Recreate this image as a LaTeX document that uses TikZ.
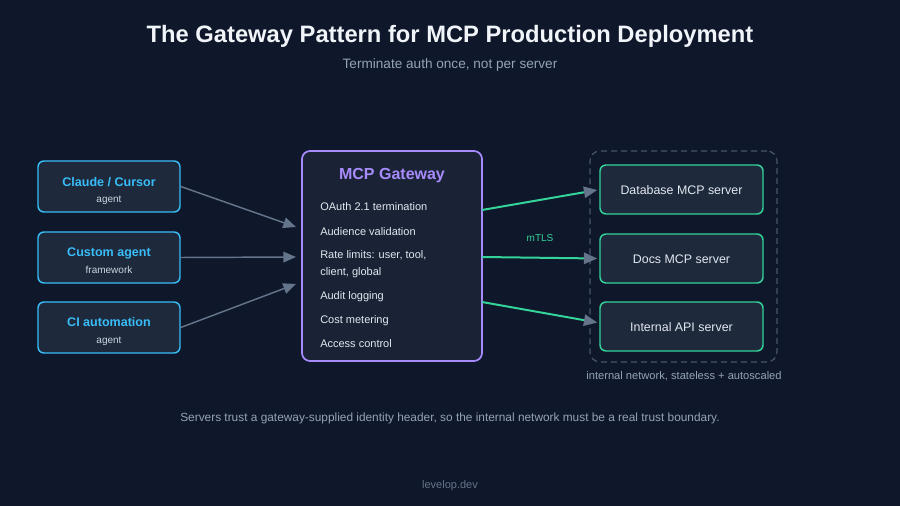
\documentclass[tikz,border=0pt]{standalone}
\usepackage{fontspec}
\setmainfont{Liberation Sans}
\usetikzlibrary{arrows.meta}
\usetikzlibrary{calc}
\usetikzlibrary{positioning}

\definecolor{bgnavy}{HTML}{0F172A}
\definecolor{panel}{HTML}{1E293B}
\definecolor{gwpanel}{HTML}{1A2335}
\definecolor{skyline}{HTML}{38BDF8}
\definecolor{purpleline}{HTML}{A78BFA}
\definecolor{greenline}{HTML}{34D399}
\definecolor{slate}{HTML}{64748B}
\definecolor{dashgray}{HTML}{475569}
\definecolor{lighttext}{HTML}{E2E8F0}
\definecolor{mutetext}{HTML}{CBD5E1}
\definecolor{graytext}{HTML}{94A3B8}
\definecolor{titletext}{HTML}{F1F5F9}

\tikzset{
	clientbox/.style={draw=skyline, line width=1.1pt, fill=panel, rounded corners=4.5pt,
		minimum width=106.5pt, minimum height=38.25pt, inner sep=0pt},
	clientname/.style={anchor=base, inner sep=0pt, text=skyline, font=\fontsize{9.4}{11}\selectfont\bfseries},
	clientkind/.style={anchor=base, inner sep=0pt, text=mutetext, font=\fontsize{7.5}{9}\selectfont},
	serverbox/.style={draw=greenline, line width=1.1pt, fill=panel, rounded corners=4.5pt,
		minimum width=122.25pt, minimum height=36.75pt, inner sep=0pt, text depth=0pt,
		text=lighttext, font=\fontsize{9.3}{11}\selectfont},
	servername/.style={anchor=base, inner sep=0pt, text=lighttext, font=\fontsize{9.3}{11}\selectfont},
	gatebox/.style={draw=purpleline, line width=1.3pt, fill=gwpanel, rounded corners=6pt,
		minimum width=135pt, minimum height=157.5pt, inner sep=0pt},
	zonebox/.style={draw=dashgray, line width=0.9pt, dash pattern=on 4.5pt off 3pt,
		rounded corners=7.5pt, minimum width=140.25pt, minimum height=158.25pt, inner sep=0pt},
	gateitem/.style={anchor=base west, align=left, text=lighttext, inner sep=0pt,
		font=\fontsize{8.25}{12}\selectfont},
	inflow/.style={draw=slate, line width=1.1pt, -{Triangle[length=9.5pt, width=8pt]}},
	outflow/.style={draw=greenline, line width=1.5pt, -{Triangle[length=10pt, width=8.5pt, color=slate]}},
}

\begin{document}
\begin{tikzpicture}[x=0.75pt, y=-0.75pt]
	\fill[bgnavy] (0,0) rectangle (900,506);
	\useasboundingbox (0,0) rectangle (900,506);

	% heading
	\node[anchor=base, text=titletext, font=\fontsize{17.8}{21}\selectfont\bfseries] (title) at (450,43) {The Gateway Pattern for MCP Production Deployment};
	\node[anchor=base, text=graytext, font=\fontsize{10.2}{12}\selectfont] (subtitle) at (450,69) {Terminate auth once, not per server};

	% clients
	\node[clientbox] (claude) at (109,186.5) {};
	\node[clientbox] (custom) at (109,257.5) {};
	\node[clientbox] (ci) at (109,327.5) {};
	\node[clientname] (claudename) at ($(claude.center)+(0,0.5)$) {Claude / Cursor};
	\node[clientkind] (claudekind) at ($(claude.center)+(0,16.5)$) {agent};
	\node[clientname] (customname) at ($(custom.center)+(0,-1)$) {Custom agent};
	\node[clientkind] (customkind) at ($(custom.center)+(0,15.5)$) {framework};
	\node[clientname] (ciname) at ($(ci.center)+(0,-1)$) {CI automation};
	\node[clientkind] (cikind) at ($(ci.center)+(0,15.5)$) {agent};

	% gateway
	\node[gatebox] (gw) at (392,256) {};
	\node[anchor=base, text=purpleline, font=\fontsize{12}{14}\selectfont\bfseries] (gwtitle) at (392,180) {MCP Gateway};
	\node[gateitem] (oauth) at (320,211) {OAuth 2.1 termination};
	\node[gateitem] (aud) at (320,235) {Audience validation};
	\node[gateitem] (rate) at (320,258.5) {Rate limits: user, tool,};
	\node[gateitem] (rate2) at (320,275) {client, global};
	\node[gateitem] (audit) at (320,299.3) {Audit logging};
	\node[gateitem] (cost) at (320,323.3) {Cost metering};
	\node[gateitem] (access) at (320,347.3) {Access control};

	% internal network
	\node[zonebox] (zone) at (683.5,256.5) {};
	\node[anchor=base, text=graytext, font=\fontsize{8.35}{10}\selectfont] (zonelabel) at (684,379.5) {internal network, stateless + autoscaled};
	\node[serverbox] (db) at (681.5,189.5) {};
	\node[serverbox] (docs) at (681.5,258.5) {};
	\node[serverbox] (api) at (681.5,326.5) {};
	\node[servername] (dbname) at ($(db.center)+(0,5.5)$) {Database MCP server};
	\node[servername] (docsname) at ($(docs.center)+(0,5)$) {Docs MCP server};
	\node[servername] (apiname) at ($(api.center)+(0,5)$) {Internal API server};

	% arrows in
	\coordinate (in1) at (296,227);
	\coordinate (in2) at (296,257);
	\coordinate (in3) at (296,284);
	\draw[inflow] (claude.east) -- (in1);
	\draw[inflow] (custom.east) -- (in2);
	\draw[inflow] (ci.east) -- (in3);

	% arrows out
	\coordinate (out1) at (482,210);
	\coordinate (out2) at (482,257);
	\coordinate (out3) at (482,302);
	\draw[outflow] (out1) -- ($(db.west)+(-2,0.5)$);
	\draw[outflow] (out2) -- ($(docs.west)+(-2,0)$);
	\draw[outflow] (out3) -- ($(api.west)+(-2,-4)$);
	\node[anchor=base, text=greenline, font=\fontsize{7.5}{9}\selectfont] (mtls) at (540,242) {mTLS};

	% footer
	\node[anchor=base, text=graytext, font=\fontsize{8.9}{10}\selectfont] (note) at (450,421) {Servers trust a gateway-supplied identity header, so the internal network must be a real trust boundary.};
	\node[anchor=base, text=slate, font=\fontsize{8.25}{10}\selectfont] (site) at (450,488) {levelop.dev};
\end{tikzpicture}
\end{document}
